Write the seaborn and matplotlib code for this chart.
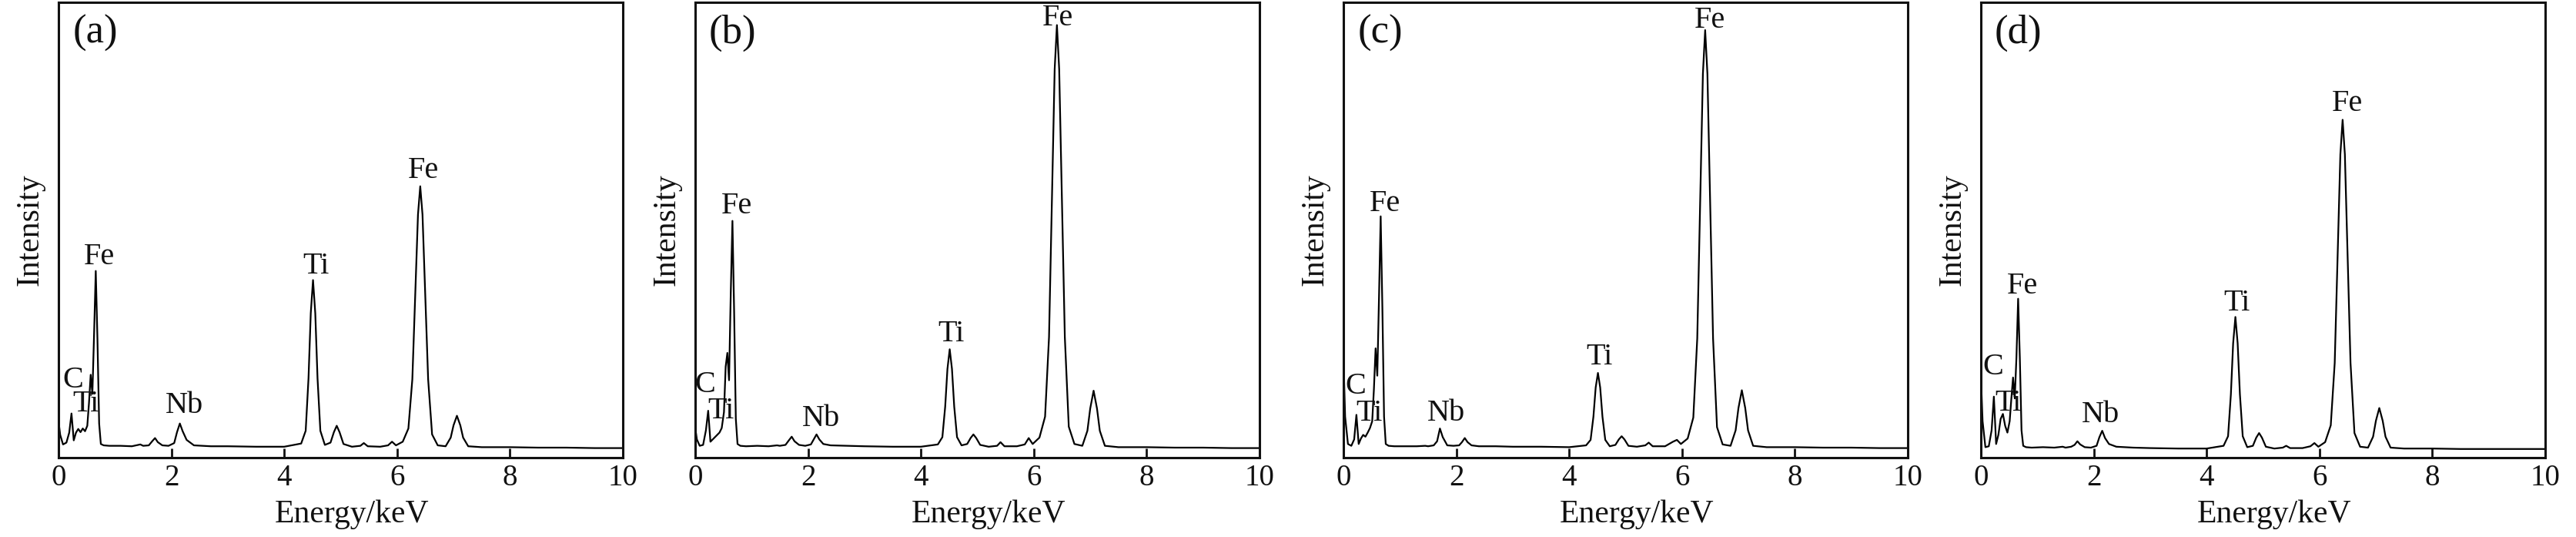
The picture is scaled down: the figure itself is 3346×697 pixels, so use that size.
import numpy as np
import pandas as pd
import seaborn as sns
import matplotlib.pyplot as plt

sns.set_theme(style="white")
plt.rcParams["font.family"] = ["Liberation Serif", "DejaVu Serif"]

# ----------------------------
# Data (intensity in % of axis height)
# ----------------------------
energy = [
    0.00, 0.03, 0.08, 0.14, 0.19, 0.23, 0.27, 0.31, 0.35, 0.39,
    0.43, 0.47, 0.51, 0.54, 0.57, 0.60, 0.63, 0.66, 0.69, 0.72,
    0.75, 0.80, 0.90, 1.10, 1.30, 1.45, 1.50, 1.60, 1.66, 1.71,
    1.76, 1.84, 1.95, 2.05, 2.10, 2.15, 2.20, 2.27, 2.40, 2.70,
    3.00, 3.50, 4.00, 4.30, 4.38, 4.43, 4.47, 4.51, 4.55, 4.59,
    4.64, 4.72, 4.82, 4.88, 4.93, 4.98, 5.05, 5.20, 5.35, 5.41,
    5.48, 5.70, 5.84, 5.91, 5.98, 6.10, 6.20, 6.27, 6.33, 6.37,
    6.41, 6.45, 6.49, 6.55, 6.62, 6.72, 6.86, 6.95, 7.00, 7.06,
    7.12, 7.17, 7.26, 7.50, 8.00, 8.50, 9.00, 9.50, 10.00,
]

intensity_a = [
    8.0, 5.0, 2.9, 3.3, 5.5, 9.7, 3.8, 5.5, 6.3, 5.6,
    6.4, 5.8, 7.0, 12.0, 18.2, 14.0, 27.0, 41.0, 26.0, 7.5,
    3.0, 2.7, 2.6, 2.6, 2.5, 2.9, 2.6, 2.7, 3.6, 4.3,
    3.4, 2.7, 2.6, 3.2, 5.6, 7.5, 5.8, 3.9, 2.7, 2.5,
    2.5, 2.4, 2.4, 3.1, 5.9, 17.4, 31.7, 39.0, 31.7, 17.4,
    5.9, 2.8, 3.3, 5.6, 7.0, 5.6, 3.0, 2.4, 2.6, 3.2,
    2.5, 2.4, 2.7, 3.5, 2.7, 3.5, 6.4, 17.2, 38.9, 53.4,
    59.6, 53.4, 38.9, 17.2, 5.1, 2.7, 2.5, 4.4, 7.1, 9.2,
    7.1, 4.4, 2.5, 2.3, 2.3, 2.2, 2.2, 2.1, 2.1,
]

intensity_b = [
    6.6, 4.0, 2.6, 2.8, 6.0, 10.3, 3.5, 4.0, 4.5, 5.0,
    5.5, 6.5, 10.0, 20.0, 23.0, 17.0, 36.0, 52.0, 32.0, 8.5,
    3.0, 2.6, 2.5, 2.6, 2.5, 2.7, 2.6, 2.8, 3.8, 4.6,
    3.6, 2.8, 2.6, 2.9, 4.0, 5.1, 4.0, 3.0, 2.7, 2.6,
    2.5, 2.4, 2.4, 2.9, 4.5, 11.2, 19.5, 23.8, 19.5, 11.2,
    4.5, 2.7, 3.0, 4.3, 5.1, 4.3, 2.8, 2.4, 2.6, 3.4,
    2.5, 2.5, 2.9, 4.3, 3.0, 4.4, 9.0, 26.5, 61.7, 85.3,
    95.0, 85.3, 61.7, 26.5, 6.8, 3.0, 2.6, 5.9, 10.8, 14.7,
    10.8, 5.9, 2.6, 2.3, 2.3, 2.2, 2.2, 2.1, 2.1,
]

intensity_c = [
    22.0, 9.0, 3.0, 2.6, 4.0, 9.4, 3.0, 4.2, 5.0, 4.6,
    5.5, 6.5, 8.0, 15.0, 24.0, 18.0, 35.0, 53.0, 33.0, 9.0,
    3.0, 2.6, 2.5, 2.5, 2.5, 2.6, 2.5, 2.7, 3.6, 6.4,
    4.5, 2.7, 2.6, 2.7, 3.4, 4.3, 3.4, 2.7, 2.5, 2.5,
    2.4, 2.4, 2.3, 2.7, 3.9, 9.0, 15.4, 18.6, 15.4, 9.0,
    3.9, 2.5, 2.8, 4.0, 4.7, 4.0, 2.6, 2.4, 2.7, 3.3,
    2.5, 2.5, 3.5, 3.9, 3.0, 4.2, 8.8, 26.2, 61.0, 84.3,
    93.9, 84.3, 61.0, 26.2, 6.7, 2.9, 2.6, 6.0, 10.9, 14.8,
    10.9, 6.0, 2.6, 2.3, 2.3, 2.2, 2.2, 2.1, 2.1,
]

intensity_d = [
    18.0, 8.0, 2.3, 2.5, 6.0, 13.4, 3.0, 5.0, 8.5, 9.6,
    7.0, 5.5, 8.0, 13.0, 17.6, 13.0, 22.0, 34.9, 22.0, 6.0,
    2.6, 2.3, 2.2, 2.3, 2.2, 2.4, 2.2, 2.4, 2.8, 3.6,
    2.9, 2.3, 2.2, 2.6, 4.5, 5.9, 4.3, 3.0, 2.4, 2.2,
    2.1, 2.0, 2.0, 2.6, 4.7, 13.9, 25.1, 30.9, 25.1, 13.9,
    4.7, 2.3, 2.6, 4.4, 5.4, 4.4, 2.4, 2.0, 2.2, 2.6,
    2.1, 2.1, 2.5, 3.2, 2.4, 3.4, 7.1, 20.8, 48.2, 66.6,
    74.2, 66.6, 48.2, 20.8, 5.4, 2.4, 2.2, 4.6, 8.1, 10.9,
    8.1, 4.6, 2.2, 2.0, 2.0, 1.9, 1.9, 1.9, 1.9,
]

panels = ["(a)", "(b)", "(c)", "(d)"]

# peak annotations: same element order in every panel
peak_names = ["C", "Ti", "Fe", "Nb", "Ti", "Fe"]
label_x_a = [0.26, 0.49, 0.72, 2.23, 4.56, 6.47]
label_y_a = [17.0, 11.8, 44.0, 11.4, 42.0, 63.0]
label_x_b = [0.18, 0.46, 0.73, 2.23, 4.54, 6.42]
label_y_b = [16.0, 10.3, 55.3, 8.5, 27.2, 96.6]
label_x_c = [0.21, 0.46, 0.73, 1.82, 4.54, 6.49]
label_y_c = [15.7, 9.8, 55.8, 9.8, 22.0, 96.0]
label_x_d = [0.22, 0.49, 0.74, 2.12, 4.54, 6.50]
label_y_d = [19.9, 12.0, 37.7, 9.4, 34.0, 77.7]

x_ticks = [0, 2, 4, 6, 8, 10]

spectra = pd.concat([
    pd.DataFrame({"energy": energy, "intensity": vals, "panel": name})
    for name, vals in zip(panels, [intensity_a, intensity_b, intensity_c, intensity_d])
], ignore_index=True)

label_pos = {
    "(a)": (label_x_a, label_y_a),
    "(b)": (label_x_b, label_y_b),
    "(c)": (label_x_c, label_y_c),
    "(d)": (label_x_d, label_y_d),
}

# ----------------------------
# Figure layout (pixels of the 3346x697 target)
# ----------------------------
W, H = 3346, 697
fig = plt.figure(figsize=(W / 100, H / 100), dpi=100)
lefts = [76, 903, 1745, 2573]
ax_w = 733
ax_top, ax_bottom = 3, 594

for name, left in zip(panels, lefts):
    ax = fig.add_axes([left / W, (H - ax_bottom) / H, ax_w / W, (ax_bottom - ax_top) / H])
    sub = spectra[spectra["panel"] == name]
    sns.lineplot(
        data=sub, x="energy", y="intensity", ax=ax,
        color="black", linewidth=1.6, estimator=None, sort=False, legend=False,
    )

    for t, lx, ly in zip(peak_names, *label_pos[name]):
        ax.text(lx, ly, t, ha="center", va="center", fontsize=29, color="#111111")

    ax.text(0.066, 0.933, name, transform=ax.transAxes, ha="center", va="center",
            fontsize=38, color="#111111")

    ax.set_xlim(0, 10)
    ax.set_ylim(0, 100)
    ax.set_xticks(x_ticks)
    ax.set_yticks([])
    ax.tick_params(axis="x", direction="in", length=9, width=2, bottom=True, top=False,
                   labelsize=28, pad=6, colors="#111111")
    for sp in ax.spines.values():
        sp.set_linewidth(2.2)
        sp.set_color("#111111")

    ax.set_xlabel("Energy/keV", fontsize=30, color="#111111")
    ax.set_ylabel("Intensity", fontsize=30, color="#111111")
    ax.xaxis.set_label_coords(0.52, -0.093)
    ax.yaxis.set_label_coords(-0.024, 0.5)

fig.savefig("out.png", dpi=100)
